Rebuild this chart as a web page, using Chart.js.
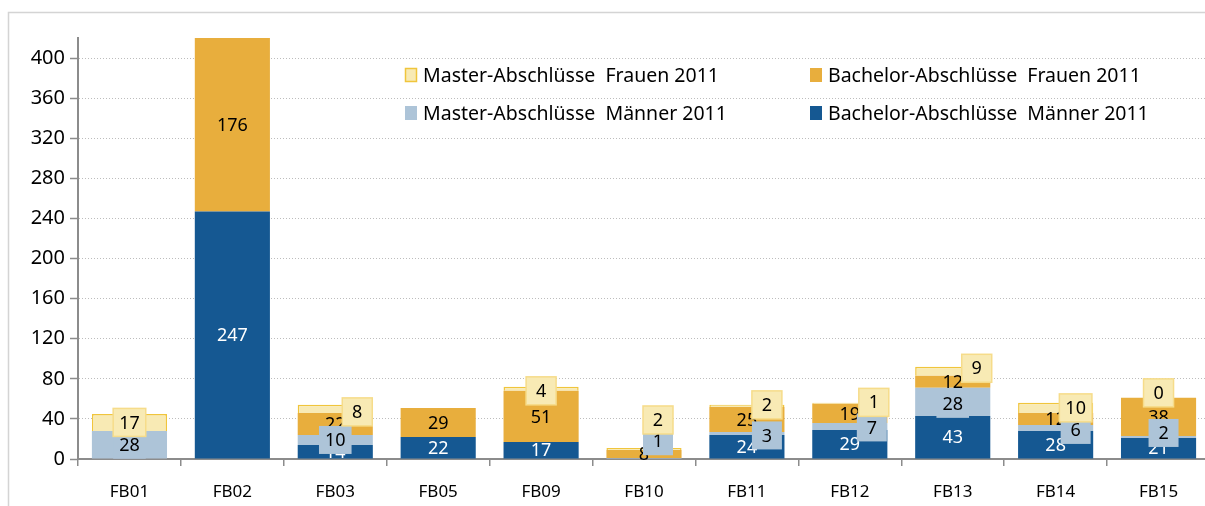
<!DOCTYPE html>
<html>
<head>
<meta charset="utf-8">
<script src="https://cdn.jsdelivr.net/npm/chart.js@4/dist/chart.umd.min.js"></script>
<style>
  html, body { margin: 0; padding: 0; background: #fff; overflow: hidden; }
  #wrap { width: 1205px; height: 506px; overflow: hidden; position: relative; }
</style>
</head>
<body>
<div id="wrap"><canvas id="chart" width="1210" height="506"></canvas></div>
<script>
// Abschlüsse 2011 nach Fachbereich
const categories = ["FB01", "FB02", "FB03", "FB05", "FB09", "FB10", "FB11", "FB12", "FB13", "FB14", "FB15"];
const bachelorMaenner = [null, 247, 14, 22, 17, null, 24, 29, 43, 28, 21];
const masterMaenner   = [28, null, 10, null, null, 1, 3, 7, 28, 6, 2];
const bachelorFrauen  = [null, 176, 22, 29, 51, 8, 25, 19, 12, 12, 38];
const masterFrauen    = [17, null, 8, null, 4, 2, 2, 1, 9, 10, 0];
const yTicks = [0, 40, 80, 120, 160, 200, 240, 280, 320, 360, 400];

// label nudges (px) like the manually moved Excel labels
const mfNudge = [[0, 0], [0, 0], [22, 3], [0, 0], [0, 2], [14, -29], [20, -1], [24, -1], [24, -3], [20, 0], [0, -5]];
const mmNudge = [[0, 0], [0, 0], [0, 0], [0, 0], [0, 0], [14, -17], [20, 2], [22, 1], [0, 2], [20, 2], [5, -4]];

const FONT = "'Noto Sans', 'DejaVu Sans', sans-serif";
const C_BM = "#155892", C_MM = "#adc4d8", C_BF = "#e8ae3d", C_MF = "#f8eab4", C_MF_B = "#f0c53c";

const labelPlugin = {
  id: "labels",
  afterDatasetsDraw(chart) {
    const ctx = chart.ctx;
    const area = chart.chartArea;
    ctx.save();
    ctx.font = "18px " + FONT;
    ctx.textAlign = "center";
    ctx.textBaseline = "middle";
    const order = [0, 2, 1, 3];
    order.forEach(di => {
      const meta = chart.getDatasetMeta(di);
      const data = chart.data.datasets[di].data;
      meta.data.forEach((bar, i) => {
        const v = data[i];
        if (v === null || v === undefined) return;
        let x = bar.x;
        let top = Math.max(bar.y, area.top);
        let y = (top + bar.base) / 2;
        const txt = String(v);
        if (di === 3 || di === 1) {
          const n = di === 3 ? mfNudge[i] : mmNudge[i];
          x += n[0]; y += n[1];
          const w = Math.max(30, ctx.measureText(txt).width + 12);
          const h = 28;
          ctx.fillStyle = di === 3 ? C_MF : C_MM;
          ctx.fillRect(x - w / 2, y - h / 2, w, h);
          if (di === 3) {
            ctx.strokeStyle = "#f6dc8a";
            ctx.lineWidth = 1.5;
            ctx.strokeRect(x - w / 2, y - h / 2, w, h);
          }
        }
        ctx.fillStyle = di === 0 ? "#ffffff" : "#000000";
        ctx.fillText(txt, x, y + 1);
      });
    });
    ctx.restore();
  }
};

const legendPlugin = {
  id: "boxLegend",
  afterDraw(chart) {
    const ctx = chart.ctx;
    ctx.save();
    // outer frame
    ctx.strokeStyle = "#d4d4d4";
    ctx.lineWidth = 1.5;
    ctx.strokeRect(8.5, 12.5, 1300, 600);
    const items = [
      { text: "Master-Abschlüsse  Frauen 2011", color: C_MF, border: C_MF_B, x: 405, y: 75 },
      { text: "Bachelor-Abschlüsse  Frauen 2011", color: C_BF, x: 810, y: 75 },
      { text: "Master-Abschlüsse  Männer 2011", color: C_MM, x: 405, y: 113 },
      { text: "Bachelor-Abschlüsse  Männer 2011", color: C_BM, x: 810, y: 113 }
    ];
    ctx.font = "19.5px " + FONT;
    ctx.textBaseline = "middle";
    ctx.textAlign = "left";
    items.forEach(it => {
      ctx.fillStyle = it.color;
      ctx.fillRect(it.x, it.y - 7, 12, 14);
      if (it.border) {
        ctx.strokeStyle = it.border;
        ctx.lineWidth = 1.5;
        ctx.strokeRect(it.x + 0.5, it.y - 6.5, 11, 13);
      }
      ctx.fillStyle = "#000";
      ctx.fillText(it.text, it.x + 18, it.y + 1);
    });
    ctx.restore();
  }
};

new Chart(document.getElementById("chart"), {
  type: "bar",
  data: {
    labels: categories,
    datasets: [
      { label: "Bachelor-Abschlüsse Männer 2011", data: bachelorMaenner, backgroundColor: C_BM },
      { label: "Master-Abschlüsse Männer 2011", data: masterMaenner, backgroundColor: C_MM },
      { label: "Bachelor-Abschlüsse Frauen 2011", data: bachelorFrauen, backgroundColor: C_BF },
      { label: "Master-Abschlüsse Frauen 2011", data: masterFrauen, backgroundColor: C_MF,
        borderColor: C_MF_B, borderWidth: 1.5 }
    ]
  },
  options: {
    responsive: false,
    animation: false,
    layout: { padding: { top: 38, right: 0, left: 0, bottom: 0 } },
    datasets: { bar: { categoryPercentage: 1, barPercentage: 0.73 } },
    plugins: {
      legend: { display: false },
      tooltip: { enabled: false }
    },
    scales: {
      x: {
        stacked: true,
        afterFit: s => { s.height = 47; },
        grid: { offset: true, drawOnChartArea: false, tickLength: 7, color: "#8c8c8c", lineWidth: 1.5 },
        border: { color: "#8c8c8c", width: 2 },
        ticks: { color: "#000", font: { family: FONT, size: 17 }, padding: 16 }
      },
      y: {
        stacked: true,
        min: 0,
        max: 420,
        afterFit: s => { s.width = 78; },
        afterBuildTicks: s => {
          const all = [];
          for (let v = 0; v <= 420; v += 20) all.push({ value: v });
          s.ticks = all;
        },
        grid: {
          color: "#bdbdbd",
          lineWidth: 1,
          tickLength: 8,
          tickColor: c => (c.tick && yTicks.includes(c.tick.value)) ? "#8c8c8c" : "rgba(0,0,0,0)",
          tickWidth: 1.5,
          tickBorderDash: []
        },
        border: { color: "#8c8c8c", width: 2, dash: [1, 2] },
        ticks: {
          color: "#000",
          font: { family: FONT, size: 20 },
          padding: 5,
          callback: v => yTicks.includes(v) ? String(v) : ""
        }
      }
    }
  },
  plugins: [labelPlugin, legendPlugin]
});
</script>
</body>
</html>
